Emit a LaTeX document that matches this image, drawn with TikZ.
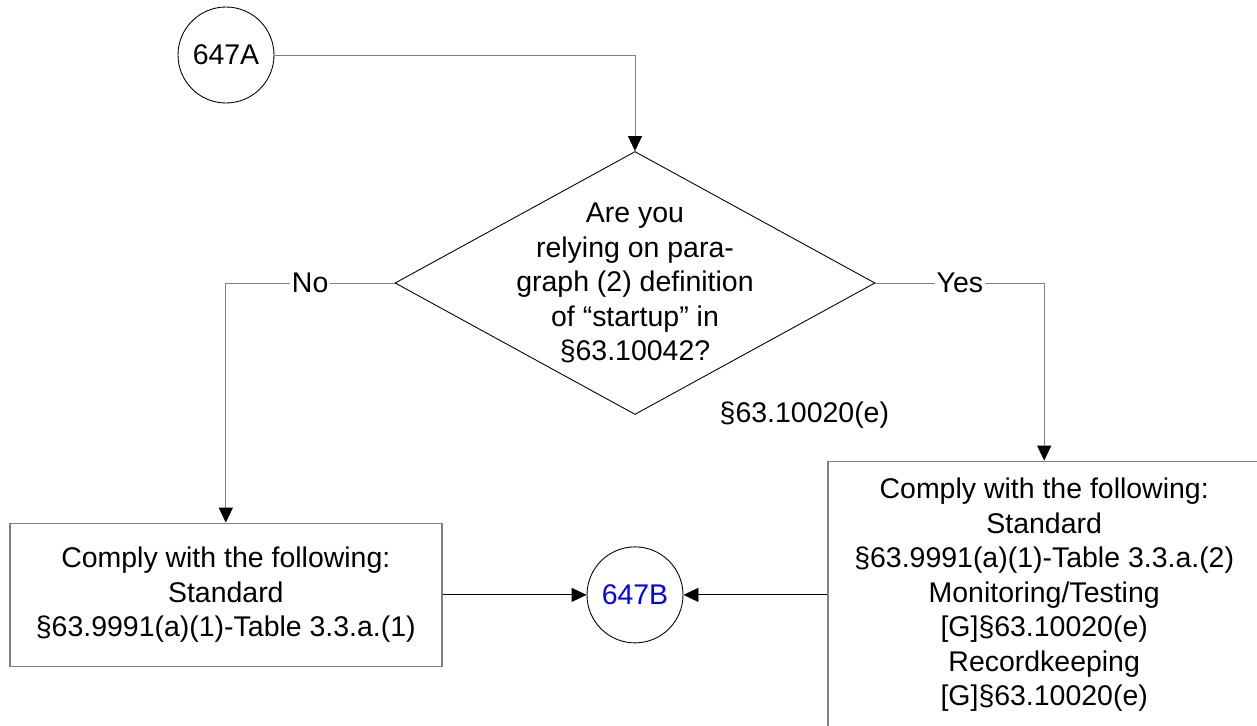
\documentclass[tikz,border=0pt]{standalone}
\usepackage{fontspec}
\setmainfont{Liberation Sans}
\usepackage{tikz}
\usetikzlibrary{arrows.meta, positioning, shapes.geometric}

\begin{document}
\begin{tikzpicture}[
    node distance=1.0cm and 0.5cm,
    txt/.style={font=\fontsize{16.2}{19.6}\selectfont, align=center},
    conn/.style={circle, draw=black, line width=0.5pt, minimum size=1.92cm,
                 inner sep=0pt, txt},
    box/.style={rectangle, draw=gray, line width=0.85pt, fill=white,
                minimum width=8.64cm, inner sep=0pt, txt},
    decision/.style={diamond, draw=black, line width=0.5pt,
                     minimum width=9.6cm, minimum height=5.26cm, inner sep=0pt},
    arrow/.style={-{Triangle[length=0.3cm, width=0.28cm, color=black]}, line width=0.5pt},
    flow/.style={draw=gray, line width=0.85pt}
]
    \useasboundingbox (0,0) rectangle (25.14,-14.52);
    \clip (0,0) rectangle (25.14,-14.52);

    \node[conn] (start) at (4.52,-1.10) {647A};
    \node[decision] (dec) at (12.70,-5.66) {};
    \node[txt] (dectext) at (dec.center)
        {Are you\\relying on para-\\graph (2) definition\\of “startup” in\\§63.10042?};
    \node[txt, anchor=west] (ref) [right=1.57cm of dec.south] {§63.10020(e)};

    \node[conn, text=blue] (done) [below=2.63cm of dec] {647B};
    \node[box, minimum height=2.86cm] (lbox) [left=2.88cm of done]
        {Comply with the following:\\Standard\\§63.9991(a)(1)-Table 3.3.a.(1)};
    \node[box, minimum height=5.34cm] (rbox) [right=2.88cm of done]
        {Comply with the following:\\Standard\\§63.9991(a)(1)-Table 3.3.a.(2)\\
         Monitoring/Testing\\{[G]}§63.10020(e)\\Recordkeeping\\{[G]}§63.10020(e)};

    \draw[flow, arrow] (start.east) -| (dec.north);
    \draw[flow, arrow] (dec.west) -| node[pos=0.25, fill=white, inner sep=1pt, txt] {No}
        (lbox.north);
    \draw[flow, arrow] (dec.east) -| node[pos=0.25, fill=white, inner sep=1pt, txt] {Yes}
        (rbox.north);
    \draw[arrow] (lbox.east) -- (done.west);
    \draw[arrow] (rbox.west) -- (done.east);
\end{tikzpicture}
\end{document}
